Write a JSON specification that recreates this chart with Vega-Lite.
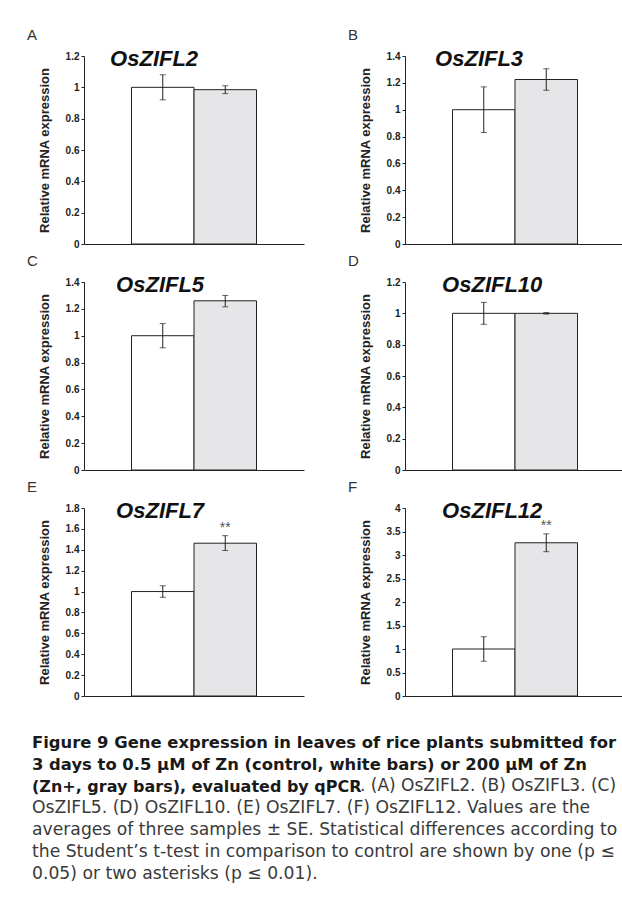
{
  "$schema": "https://vega.github.io/schema/vega-lite/v6.json",
  "background": "white",
  "padding": {"left": 27, "top": 27, "right": 0, "bottom": 0},
  "spacing": 33,
  "datasets": {
    "expr": [
      {"panel": "A", "treatment": "Control", "value": 1.0, "lo": 0.92, "hi": 1.08, "sig": ""},
      {"panel": "A", "treatment": "Zn+", "value": 0.985, "lo": 0.96, "hi": 1.01, "sig": ""},
      {"panel": "B", "treatment": "Control", "value": 1.0, "lo": 0.83, "hi": 1.17, "sig": ""},
      {"panel": "B", "treatment": "Zn+", "value": 1.225, "lo": 1.145, "hi": 1.305, "sig": ""},
      {"panel": "C", "treatment": "Control", "value": 1.0, "lo": 0.91, "hi": 1.09, "sig": ""},
      {"panel": "C", "treatment": "Zn+", "value": 1.26, "lo": 1.215, "hi": 1.3, "sig": ""},
      {"panel": "D", "treatment": "Control", "value": 1.0, "lo": 0.93, "hi": 1.07, "sig": ""},
      {"panel": "D", "treatment": "Zn+", "value": 1.0, "lo": 0.995, "hi": 1.005, "sig": ""},
      {"panel": "E", "treatment": "Control", "value": 1.0, "lo": 0.945, "hi": 1.055, "sig": ""},
      {"panel": "E", "treatment": "Zn+", "value": 1.463, "lo": 1.393, "hi": 1.535, "sig": "**"},
      {"panel": "F", "treatment": "Control", "value": 1.0, "lo": 0.74, "hi": 1.26, "sig": ""},
      {"panel": "F", "treatment": "Zn+", "value": 3.26, "lo": 3.07, "hi": 3.45, "sig": "**"}
    ]
  },
  "config": {
    "view": {"stroke": null},
    "font": "Liberation Sans",
    "axis": {"domainColor": "#222", "tickColor": "#222", "labelColor": "#222", "titleColor": "#222", "grid": false, "labelFont": "Liberation Sans", "labelFontWeight": "bold", "labelFontSize": 10, "titleFont": "Liberation Sans", "titleFontSize": 13, "titleFontWeight": "bold", "tickSize": 3, "labelPadding": 2, "titlePadding": 14, "domainWidth": 1, "tickWidth": 1},
    "title": {"font": "Liberation Sans", "fontSize": 22, "fontStyle": "italic", "fontWeight": "bold", "color": "#111", "anchor": "start", "align": "center", "baseline": "alphabetic", "offset": -19.5},
    "bar": {"stroke": "#222", "strokeWidth": 1},
    "rule": {"color": "#222", "strokeWidth": 1},
    "tick": {"color": "#222", "thickness": 1, "size": 6},
    "concat": {"spacing": 44}
  },
  "vconcat": [
    {
      "spacing": 4,
      "vconcat": [
        {
          "hconcat": [
            {
              "title": {"text": "A", "fontSize": 15, "fontStyle": "normal", "fontWeight": "normal", "color": "#333", "align": "left", "frame": "bounds", "dx": -11, "offset": 5},
              "vconcat": [
                {
                  "width": 220, "height": 188,
                  "title": {"text": "OsZIFL2", "dx": 72},
                  "data": {"name": "expr"},
                  "transform": [{"filter": "datum.panel == 'A'"}],
                  "encoding": {
                    "x": {"field": "treatment", "type": "nominal", "sort": ["Control", "Zn+"], "scale": {"paddingInner": 0, "paddingOuter": 0.76}, "axis": {"labels": false, "ticks": false, "title": null}},
                    "y": {"field": "value", "type": "quantitative", "scale": {"domain": [0, 1.2], "nice": false}, "axis": {"values": [0, 0.2, 0.4, 0.6, 0.8, 1, 1.2], "format": "~g", "title": "Relative mRNA expression"}}
                  },
                  "layer": [
                    {"mark": "bar", "encoding": {"color": {"field": "treatment", "type": "nominal", "scale": {"domain": ["Control", "Zn+"], "range": ["#ffffff", "#e6e6e8"]}, "legend": null}}},
                    {"mark": "rule", "encoding": {"y": {"field": "lo", "type": "quantitative"}, "y2": {"field": "hi"}}},
                    {"mark": "tick", "encoding": {"y": {"field": "lo", "type": "quantitative"}}},
                    {"mark": "tick", "encoding": {"y": {"field": "hi", "type": "quantitative"}}},
                    {"mark": {"type": "text", "baseline": "bottom", "dy": -1, "fontSize": 14, "color": "#555"}, "encoding": {"y": {"field": "hi", "type": "quantitative"}, "text": {"field": "sig"}}}
                  ]
                }
              ]
            },
            {
              "title": {"text": "B", "fontSize": 15, "fontStyle": "normal", "fontWeight": "normal", "color": "#333", "align": "left", "frame": "bounds", "dx": -11, "offset": 5},
              "vconcat": [
                {
                  "width": 220, "height": 188,
                  "title": {"text": "OsZIFL3", "dx": 76},
                  "data": {"name": "expr"},
                  "transform": [{"filter": "datum.panel == 'B'"}],
                  "encoding": {
                    "x": {"field": "treatment", "type": "nominal", "sort": ["Control", "Zn+"], "scale": {"paddingInner": 0, "paddingOuter": 0.76}, "axis": {"labels": false, "ticks": false, "title": null}},
                    "y": {"field": "value", "type": "quantitative", "scale": {"domain": [0, 1.4], "nice": false}, "axis": {"values": [0, 0.2, 0.4, 0.6, 0.8, 1, 1.2, 1.4], "format": "~g", "title": "Relative mRNA expression"}}
                  },
                  "layer": [
                    {"mark": "bar", "encoding": {"color": {"field": "treatment", "type": "nominal", "scale": {"domain": ["Control", "Zn+"], "range": ["#ffffff", "#e6e6e8"]}, "legend": null}}},
                    {"mark": "rule", "encoding": {"y": {"field": "lo", "type": "quantitative"}, "y2": {"field": "hi"}}},
                    {"mark": "tick", "encoding": {"y": {"field": "lo", "type": "quantitative"}}},
                    {"mark": "tick", "encoding": {"y": {"field": "hi", "type": "quantitative"}}},
                    {"mark": {"type": "text", "baseline": "bottom", "dy": -1, "fontSize": 14, "color": "#555"}, "encoding": {"y": {"field": "hi", "type": "quantitative"}, "text": {"field": "sig"}}}
                  ]
                }
              ]
            }
          ]
        },
        {
          "hconcat": [
            {
              "title": {"text": "C", "fontSize": 15, "fontStyle": "normal", "fontWeight": "normal", "color": "#333", "align": "left", "frame": "bounds", "dx": -11, "offset": 5},
              "vconcat": [
                {
                  "width": 220, "height": 188,
                  "title": {"text": "OsZIFL5", "dx": 78},
                  "data": {"name": "expr"},
                  "transform": [{"filter": "datum.panel == 'C'"}],
                  "encoding": {
                    "x": {"field": "treatment", "type": "nominal", "sort": ["Control", "Zn+"], "scale": {"paddingInner": 0, "paddingOuter": 0.76}, "axis": {"labels": false, "ticks": false, "title": null}},
                    "y": {"field": "value", "type": "quantitative", "scale": {"domain": [0, 1.4], "nice": false}, "axis": {"values": [0, 0.2, 0.4, 0.6, 0.8, 1, 1.2, 1.4], "format": "~g", "title": "Relative mRNA expression"}}
                  },
                  "layer": [
                    {"mark": "bar", "encoding": {"color": {"field": "treatment", "type": "nominal", "scale": {"domain": ["Control", "Zn+"], "range": ["#ffffff", "#e6e6e8"]}, "legend": null}}},
                    {"mark": "rule", "encoding": {"y": {"field": "lo", "type": "quantitative"}, "y2": {"field": "hi"}}},
                    {"mark": "tick", "encoding": {"y": {"field": "lo", "type": "quantitative"}}},
                    {"mark": "tick", "encoding": {"y": {"field": "hi", "type": "quantitative"}}},
                    {"mark": {"type": "text", "baseline": "bottom", "dy": -1, "fontSize": 14, "color": "#555"}, "encoding": {"y": {"field": "hi", "type": "quantitative"}, "text": {"field": "sig"}}}
                  ]
                }
              ]
            },
            {
              "title": {"text": "D", "fontSize": 15, "fontStyle": "normal", "fontWeight": "normal", "color": "#333", "align": "left", "frame": "bounds", "dx": -11, "offset": 5},
              "vconcat": [
                {
                  "width": 220, "height": 188,
                  "title": {"text": "OsZIFL10", "dx": 83},
                  "data": {"name": "expr"},
                  "transform": [{"filter": "datum.panel == 'D'"}],
                  "encoding": {
                    "x": {"field": "treatment", "type": "nominal", "sort": ["Control", "Zn+"], "scale": {"paddingInner": 0, "paddingOuter": 0.76}, "axis": {"labels": false, "ticks": false, "title": null}},
                    "y": {"field": "value", "type": "quantitative", "scale": {"domain": [0, 1.2], "nice": false}, "axis": {"values": [0, 0.2, 0.4, 0.6, 0.8, 1, 1.2], "format": "~g", "title": "Relative mRNA expression"}}
                  },
                  "layer": [
                    {"mark": "bar", "encoding": {"color": {"field": "treatment", "type": "nominal", "scale": {"domain": ["Control", "Zn+"], "range": ["#ffffff", "#e6e6e8"]}, "legend": null}}},
                    {"mark": "rule", "encoding": {"y": {"field": "lo", "type": "quantitative"}, "y2": {"field": "hi"}}},
                    {"mark": "tick", "encoding": {"y": {"field": "lo", "type": "quantitative"}}},
                    {"mark": "tick", "encoding": {"y": {"field": "hi", "type": "quantitative"}}},
                    {"mark": {"type": "text", "baseline": "bottom", "dy": -1, "fontSize": 14, "color": "#555"}, "encoding": {"y": {"field": "hi", "type": "quantitative"}, "text": {"field": "sig"}}}
                  ]
                }
              ]
            }
          ]
        },
        {
          "hconcat": [
            {
              "title": {"text": "E", "fontSize": 15, "fontStyle": "normal", "fontWeight": "normal", "color": "#333", "align": "left", "frame": "bounds", "dx": -11, "offset": 5},
              "vconcat": [
                {
                  "width": 220, "height": 188,
                  "title": {"text": "OsZIFL7", "dx": 78},
                  "data": {"name": "expr"},
                  "transform": [{"filter": "datum.panel == 'E'"}],
                  "encoding": {
                    "x": {"field": "treatment", "type": "nominal", "sort": ["Control", "Zn+"], "scale": {"paddingInner": 0, "paddingOuter": 0.76}, "axis": {"labels": false, "ticks": false, "title": null}},
                    "y": {"field": "value", "type": "quantitative", "scale": {"domain": [0, 1.8], "nice": false}, "axis": {"values": [0, 0.2, 0.4, 0.6, 0.8, 1, 1.2, 1.4, 1.6, 1.8], "format": "~g", "title": "Relative mRNA expression"}}
                  },
                  "layer": [
                    {"mark": "bar", "encoding": {"color": {"field": "treatment", "type": "nominal", "scale": {"domain": ["Control", "Zn+"], "range": ["#ffffff", "#e6e6e8"]}, "legend": null}}},
                    {"mark": "rule", "encoding": {"y": {"field": "lo", "type": "quantitative"}, "y2": {"field": "hi"}}},
                    {"mark": "tick", "encoding": {"y": {"field": "lo", "type": "quantitative"}}},
                    {"mark": "tick", "encoding": {"y": {"field": "hi", "type": "quantitative"}}},
                    {"mark": {"type": "text", "baseline": "bottom", "dy": -1, "fontSize": 14, "color": "#555"}, "encoding": {"y": {"field": "hi", "type": "quantitative"}, "text": {"field": "sig"}}}
                  ]
                }
              ]
            },
            {
              "title": {"text": "F", "fontSize": 15, "fontStyle": "normal", "fontWeight": "normal", "color": "#333", "align": "left", "frame": "bounds", "dx": -11, "offset": 5},
              "vconcat": [
                {
                  "width": 220, "height": 188,
                  "title": {"text": "OsZIFL12", "dx": 83},
                  "data": {"name": "expr"},
                  "transform": [{"filter": "datum.panel == 'F'"}],
                  "encoding": {
                    "x": {"field": "treatment", "type": "nominal", "sort": ["Control", "Zn+"], "scale": {"paddingInner": 0, "paddingOuter": 0.76}, "axis": {"labels": false, "ticks": false, "title": null}},
                    "y": {"field": "value", "type": "quantitative", "scale": {"domain": [0, 4], "nice": false}, "axis": {"values": [0, 0.5, 1, 1.5, 2, 2.5, 3, 3.5, 4], "format": "~g", "title": "Relative mRNA expression"}}
                  },
                  "layer": [
                    {"mark": "bar", "encoding": {"color": {"field": "treatment", "type": "nominal", "scale": {"domain": ["Control", "Zn+"], "range": ["#ffffff", "#e6e6e8"]}, "legend": null}}},
                    {"mark": "rule", "encoding": {"y": {"field": "lo", "type": "quantitative"}, "y2": {"field": "hi"}}},
                    {"mark": "tick", "encoding": {"y": {"field": "lo", "type": "quantitative"}}},
                    {"mark": "tick", "encoding": {"y": {"field": "hi", "type": "quantitative"}}},
                    {"mark": {"type": "text", "baseline": "bottom", "dy": -1, "fontSize": 14, "color": "#555"}, "encoding": {"y": {"field": "hi", "type": "quantitative"}, "text": {"field": "sig"}}}
                  ]
                }
              ]
            }
          ]
        }
      ]
    },
    {
      "spacing": 0,
      "bounds": "flush",
      "vconcat": [
        {
          "width": 1, "height": 22, "data": {"values": []}, "mark": "point", "encoding": {},
          "title": {"text": ["Figure 9 Gene expression in leaves of rice plants submitted for", "3 days to 0.5 µM of Zn (control, white bars) or 200 µM of Zn"], "font": "DejaVu Sans", "fontSize": 16.4, "fontWeight": "bold", "fontStyle": "normal", "color": "#1a1a1a", "lineHeight": 22, "align": "left", "anchor": "start", "frame": "group", "dx": -52, "baseline": "alphabetic", "offset": 0}
        },
        {
          "spacing": 0,
          "bounds": "flush",
          "hconcat": [
            {
              "width": 328, "height": 1, "data": {"values": []}, "mark": "point", "encoding": {},
              "title": {"text": "(Zn+, gray bars), evaluated by qPCR", "font": "DejaVu Sans", "fontSize": 16, "fontWeight": "bold", "fontStyle": "normal", "color": "#1a1a1a", "align": "left", "anchor": "start", "frame": "group", "dx": -52, "baseline": "alphabetic", "offset": 0}
            },
            {
              "width": 1, "height": 1, "data": {"values": []}, "mark": "point", "encoding": {},
              "title": {"text": ". (A) OsZIFL2. (B) OsZIFL3. (C)", "font": "DejaVu Sans", "fontSize": 17, "fontWeight": "normal", "fontStyle": "normal", "color": "#3a3a3a", "align": "left", "anchor": "start", "frame": "group", "dx": -52, "baseline": "alphabetic", "offset": 0}
            }
          ]
        },
        {
          "width": 1, "height": 88, "data": {"values": []}, "mark": "point", "encoding": {}
        },
        {
          "width": 1, "height": 1, "data": {"values": []}, "mark": "point", "encoding": {},
          "title": {"text": ["OsZIFL5. (D) OsZIFL10. (E) OsZIFL7. (F) OsZIFL12. Values are the", "averages of three samples ± SE. Statistical differences according to", "the Student’s t-test in comparison to control are shown by one (p ≤", "0.05) or two asterisks (p ≤ 0.01)."], "font": "DejaVu Sans", "fontSize": 17.2, "fontWeight": "normal", "fontStyle": "normal", "color": "#3a3a3a", "lineHeight": 22, "align": "left", "anchor": "start", "frame": "group", "dx": -52, "baseline": "alphabetic", "offset": 0}
        }
      ]
    }
  ]
}
